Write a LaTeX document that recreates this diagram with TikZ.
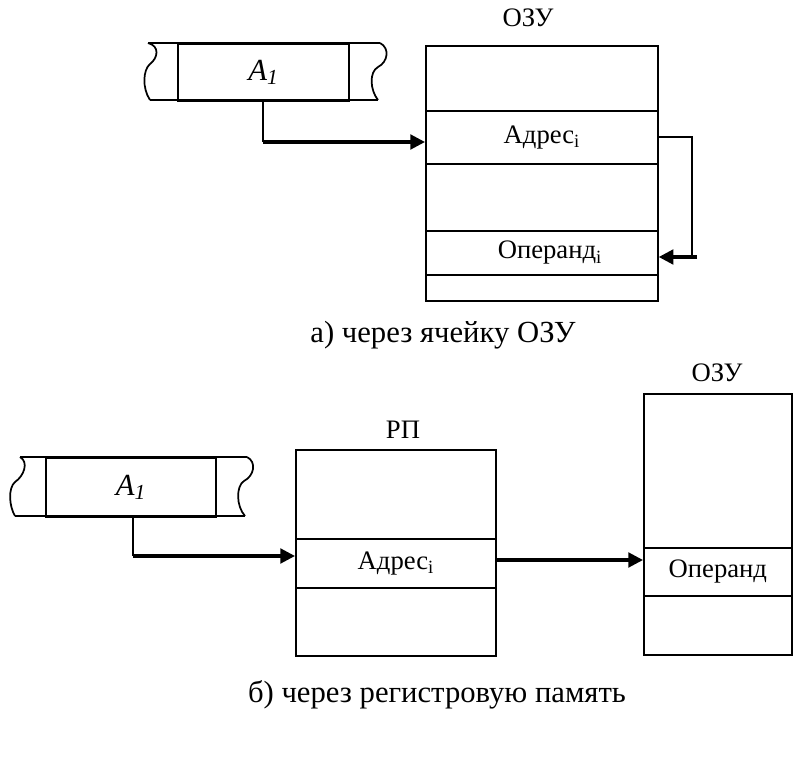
\documentclass[tikz,border=0pt]{standalone}
\usepackage{fontspec}
\setmainfont{Liberation Serif}
\usetikzlibrary{arrows.meta}
\newcommand\boxfont{\fontsize{20}{24}\selectfont}
\newcommand\capfont{\fontsize{23}{27}\selectfont}
\newcommand\cmdfont{\fontsize{23}{27}\selectfont}
\tikzset{
  cell/.style={draw, line width=1.3pt, inner sep=0pt, anchor=north west, font=\boxfont},
  edge/.style={line width=1.3pt},
  thinline/.style={line width=1.2pt},
  arr/.style={line width=2.3pt, -{Triangle[length=11pt,width=11pt]}},
  title/.style={font=\boxfont, inner sep=0pt},
  caption/.style={font=\capfont, inner sep=0pt}
}
\begin{document}
\begin{tikzpicture}[x=0.75pt,y=-0.75pt]
\useasboundingbox[fill=white] (0,0) rectangle (800,760);

% ---------- a) ----------
% command strip
\draw[edge] (148,43) -- (380,43);
\draw[edge] (150,100) -- (378,100);
\draw[edge] (148,43) .. controls (160,46) and (158,58) .. (150,64) .. controls (143,70) and (142,88) .. (150,100);
\draw[edge] (380,43) .. controls (390,48) and (388,62) .. (378,67) .. controls (369,72) and (370,90) .. (378,100);
\node[cell, font=\cmdfont, minimum width=128.25pt, minimum height=42.75pt] (cmdA) at (177,43) {\textit{A\textsubscript{1}}};

% memory
\node[title] (ozuAt) at (528,18) {ОЗУ};
\node[cell, minimum width=174pt, minimum height=48.75pt] (oa1) at (425,45) {};
\node[cell, minimum width=174pt, minimum height=39.75pt] (oa2) at (425,110) {Адрес\textsubscript{i}};
\node[cell, minimum width=174pt, minimum height=50.25pt] (oa3) at (425,163) {};
\node[cell, minimum width=174pt, minimum height=33pt] (oa4) at (425,230) {\hspace{12pt}Операнд\textsubscript{i}};
\node[cell, minimum width=174pt, minimum height=19.5pt] (oa5) at (425,274) {};

\coordinate (ta) at (263,142);
\draw[thinline] (cmdA.south -| ta) -- (ta);
\draw[arr] (ta) -- (oa2.west |- ta);

\coordinate (lp0) at (657,137);
\coordinate (lp1) at (692,137);
\coordinate (lp2) at (692,257);
\coordinate (lp3) at (697,257);
\draw[thinline] (oa2.east |- lp0) -- (lp1) -- (lp2);
\draw[arr] (lp3) -- (oa4.east |- lp3);

\node[caption] (capA) at (443,335) {а) через ячейку ОЗУ};

% ---------- b) ----------
\draw[edge] (20,457) -- (247,457);
\draw[edge] (15,516) -- (245,516);
\draw[edge] (20,457) .. controls (29,462) and (24,476) .. (15,482) .. controls (8,488) and (9,506) .. (15,516);
\draw[edge] (247,457) .. controls (257,462) and (254,476) .. (244,481) .. controls (236,486) and (236,506) .. (245,516);
\node[cell, font=\cmdfont, minimum width=127.5pt, minimum height=44.25pt] (cmdB) at (45,457) {\textit{A\textsubscript{1}}};

\node[title] (rpt) at (403,430) {РП};
\node[cell, minimum width=150pt, minimum height=66.75pt] (rp1) at (295,449) {};
\node[cell, minimum width=150pt, minimum height=36.75pt] (rp2) at (295,538) {Адрес\textsubscript{i}};
\node[cell, minimum width=150pt, minimum height=51pt] (rp3) at (295,587) {};

\node[title] (ozuBt) at (717,373) {ОЗУ};
\node[cell, minimum width=111pt, minimum height=115.5pt] (ob1) at (643,393) {};
\node[cell, minimum width=111pt, minimum height=36pt] (ob2) at (643,547) {Операнд};
\node[cell, minimum width=111pt, minimum height=44.25pt] (ob3) at (643,595) {};

\coordinate (tb) at (133,556);
\draw[thinline] (cmdB.south -| tb) -- (tb);
\draw[arr] (tb) -- (rp2.west |- tb);

\coordinate (rb) at (560,560);
\draw[arr] (rp2.east |- rb) -- (ob2.west |- rb);

\node[caption] (capB) at (437,695) {б) через регистровую память};
\end{tikzpicture}
\end{document}
